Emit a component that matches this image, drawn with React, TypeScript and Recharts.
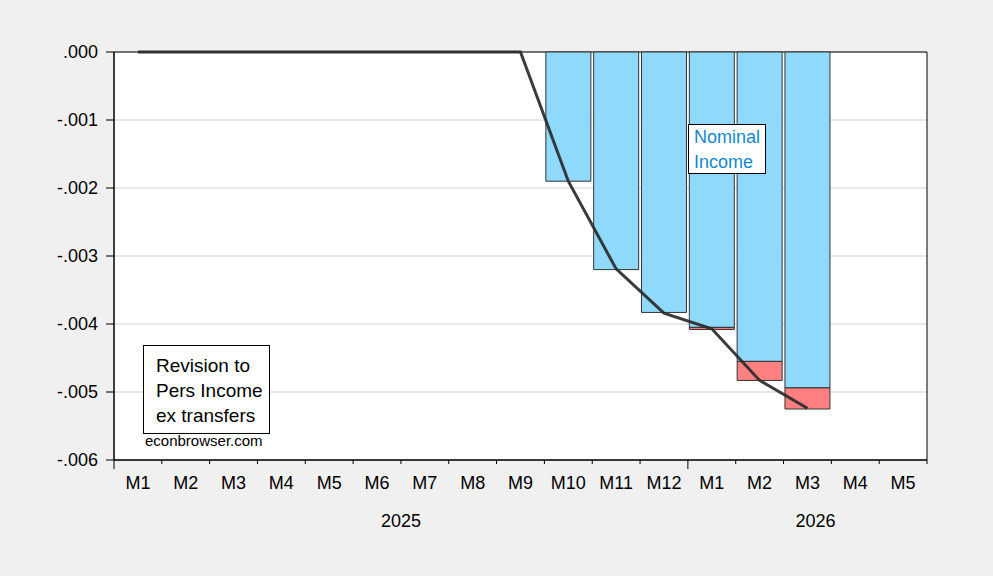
import React from "react";
import {
  ComposedChart,
  Bar,
  Line,
  XAxis,
  YAxis,
  CartesianGrid,
  ReferenceArea,
} from "recharts";

// months from 2025M1 through 2026M5
const months = [
  "M1", "M2", "M3", "M4", "M5", "M6", "M7", "M8", "M9", "M10", "M11", "M12",
  "M1", "M2", "M3", "M4", "M5",
];

// revision, nominal income part (blue bars)
const nominalIncome = [
  null, null, null, null, null, null, null, null, null,
  -0.0019, -0.0032, -0.00383, -0.00405, -0.00455, -0.00494, null, null,
];

// extra revision stacked below (red bars)
const extraRevision = [
  null, null, null, null, null, null, null, null, null,
  null, null, null, -0.00003, -0.00028, -0.00031, null, null,
];

// revision to pers income ex transfers (line)
const persIncomeExTransfers = [
  0, 0, 0, 0, 0, 0, 0, 0, 0,
  -0.0019, -0.00319, -0.00384, -0.00407, -0.00483, -0.00524, null, null,
];

const yTicks = [0, -0.001, -0.002, -0.003, -0.004, -0.005, -0.006];
const years = ["2025", "2026"];
const yearStarts = [0, 12];
const yearLabelAt = [6, 14.67];

const W = 993;
const H = 576;
const MARGIN = { top: 52, right: 66, bottom: 86, left: 54 };
const Y_AXIS_W = 60;
const X_AXIS_H = 30;
const PLOT_W = W - MARGIN.left - MARGIN.right - Y_AXIS_W;
const BAND = PLOT_W / months.length;
const FONT = "'Liberation Sans', Arial, sans-serif";

const data = months.map((m, i) => ({
  x: i + 0.5,
  month: m,
  nominal: nominalIncome[i],
  extra: extraRevision[i],
  total: persIncomeExTransfers[i],
}));

const xTicks = Array.from({ length: months.length + 1 }, (_, i) => i);

const formatY = (v: number) => {
  if (v === 0) return ".000";
  return "-" + Math.abs(v).toFixed(3).replace("0.", ".");
};

// ticks sit on month boundaries, labels in between
const MonthTick = (props: any) => {
  const { x, y, payload } = props;
  const v = payload.value as number;
  const yi = yearStarts.indexOf(v);
  return (
    <g>
      <line
        x1={x}
        y1={y}
        x2={x}
        y2={y + (yi >= 0 ? 9 : 4)}
        stroke="#000"
        strokeWidth={1}
      />
      {v < months.length && (
        <text
          x={x + BAND / 2}
          y={y + 29}
          textAnchor="middle"
          fontSize={18}
          fill="#000"
          fontFamily={FONT}
        >
          {months[v]}
        </text>
      )}
      {yi >= 0 && (
        <text
          x={x + (yearLabelAt[yi] - v) * BAND}
          y={y + 67}
          textAnchor="middle"
          fontSize={18}
          fill="#000"
          fontFamily={FONT}
        >
          {years[yi]}
        </text>
      )}
    </g>
  );
};

export default function App() {
  return (
    <div
      style={{
        position: "absolute",
        left: 0,
        top: 0,
        width: W,
        height: H,
        background: "#f0f0f0",
        fontFamily: FONT,
      }}
    >
      <ComposedChart width={W} height={H} data={data} margin={MARGIN} barCategoryGap="3%">
        <CartesianGrid vertical={false} stroke="#d2d2d2" fill="#ffffff" />
        <XAxis
          dataKey="x"
          type="number"
          domain={[0, months.length]}
          ticks={xTicks}
          interval={0}
          height={X_AXIS_H}
          tickSize={0}
          tickMargin={0}
          tickLine={false}
          axisLine={{ stroke: "#000" }}
          tick={<MonthTick />}
        />
        <YAxis
          type="number"
          domain={[-0.006, 0]}
          ticks={yTicks}
          interval={0}
          width={Y_AXIS_W}
          tickSize={8}
          tickMargin={8}
          tickFormatter={formatY}
          axisLine={{ stroke: "#000" }}
          tickLine={{ stroke: "#000" }}
          tick={{ fill: "#000", fontSize: 18, fontFamily: FONT }}
        />
        <Bar
          dataKey="nominal"
          stackId="rev"
          fill="#8fd9fd"
          stroke="#333"
          strokeWidth={1}
          isAnimationActive={false}
        />
        <Bar
          dataKey="extra"
          stackId="rev"
          fill="#ff8080"
          stroke="#333"
          strokeWidth={1}
          isAnimationActive={false}
        />
        <Line
          dataKey="total"
          stroke="#2a2a2a"
          strokeOpacity={0.92}
          strokeWidth={3}
          dot={false}
          activeDot={false}
          isAnimationActive={false}
        />
        <ReferenceArea
          x1={0}
          x2={months.length}
          y1={-0.006}
          y2={0}
          fill="none"
          stroke="#000"
          ifOverflow="visible"
        />
      </ComposedChart>

      <div
        style={{
          position: "absolute",
          left: 688,
          top: 124,
          width: 78,
          height: 50,
          boxSizing: "border-box",
          border: "1px solid #000",
          background: "#fff",
          color: "#1388cf",
          fontSize: 18,
          lineHeight: "25px",
          padding: "0 0 0 5px",
        }}
      >
        Nominal
        <br />
        Income
      </div>

      <div
        style={{
          position: "absolute",
          left: 143,
          top: 345,
          width: 127,
          height: 89,
          boxSizing: "border-box",
          border: "1px solid #000",
          background: "#fff",
          color: "#000",
          fontSize: 19,
          lineHeight: "25px",
          padding: "7px 0 0 12px",
        }}
      >
        Revision to
        <br />
        Pers Income
        <br />
        ex transfers
      </div>

      <div
        style={{
          position: "absolute",
          left: 145,
          top: 433,
          fontSize: 15,
          lineHeight: "16px",
          color: "#000",
        }}
      >
        econbrowser.com
      </div>
    </div>
  );
}
